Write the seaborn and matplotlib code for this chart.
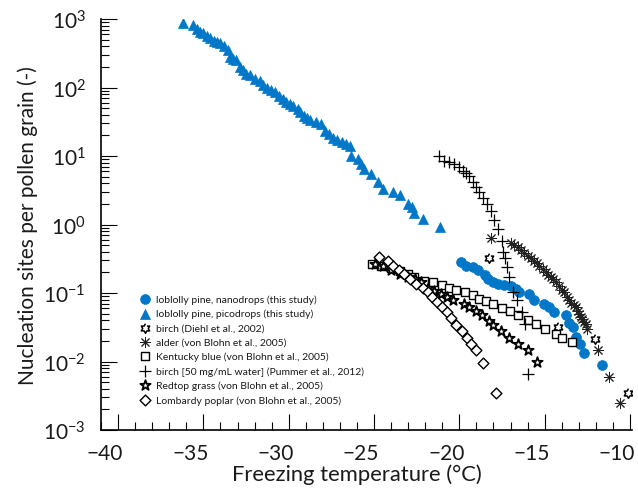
import matplotlib
matplotlib.use("Agg")
import numpy as np
import pandas as pd
import matplotlib.pyplot as plt
import matplotlib.transforms as mtransforms
from matplotlib.ticker import MultipleLocator, LogLocator, NullFormatter
import seaborn as sns

# ---- data: freezing temperature (deg C) and nucleation sites per pollen grain ----
nano_temp = [-19.9, -19.61, -19.22, -18.93, -18.48, -18.3, -18.05, -17.76, -17.37, -16.98,
             -16.68, -16.49, -15.9, -15.6, -15.03, -14.74, -14.44, -13.76, -13.6, -13.35,
             -13.16, -12.9, -12.7, -11.62]
nano_sites = [0.288, 0.251, 0.237, 0.219, 0.182, 0.158, 0.146, 0.135, 0.132, 0.126,
              0.115, 0.105, 0.098, 0.079, 0.069, 0.062, 0.052, 0.048, 0.037, 0.032,
              0.023, 0.018, 0.0135, 0.0089]

pico_temp = [-36.2, -35.6, -35.4, -35.2, -35.0, -34.8, -34.6, -34.4, -34.2, -34.0,
             -33.8, -33.55, -33.45, -33.25, -33.06, -32.85, -32.67, -32.5, -32.28, -32.0,
             -31.7, -31.5, -31.3, -31.05, -30.8, -30.55, -30.33, -30.15, -29.94, -29.75,
             -29.46, -29.36, -29.1, -28.9, -28.77, -28.4, -28.1, -27.9, -27.65, -27.4,
             -27.15, -26.9, -26.65, -26.43, -26.33, -25.94, -25.75, -25.56, -25.16, -24.78,
             -24.5, -23.86, -23.47, -23.02, -22.8, -22.63, -22.15, -21.13]
pico_sites = [870, 810, 720, 650, 620, 560, 520, 480, 460, 440,
              400, 350, 280, 260, 250, 200, 180, 160, 150, 135,
              126, 110, 100, 91, 85, 76, 68, 62, 58, 54,
              49, 44, 38, 35.5, 33, 31, 29.5, 23.4, 20.9, 18.6,
              17.0, 15.8, 14.8, 14.1, 10.0, 9.1, 7.6, 6.5, 5.5, 4.2,
              3.3, 3.0, 2.7, 2.0, 1.8, 1.48, 1.2, 0.91]

diehl_temp = [-18.25, -14.19, -12.05, -10.1]
diehl_sites = [0.32, 0.032, 0.021, 0.0035]

alder_temp = [-18.15, -16.98, -16.8, -16.59, -16.4, -16.2, -16.0, -15.8, -15.61, -15.45,
              -15.32, -15.1, -14.93, -14.8, -14.64, -14.5, -14.34, -14.15, -14.0, -13.86,
              -13.67, -13.55, -13.47, -13.3, -13.18, -13.05, -12.98, -12.88, -12.79, -12.7,
              -12.6, -12.5, -11.9, -11.23, -10.6]
alder_sites = [0.63, 0.54, 0.50, 0.47, 0.43, 0.39, 0.35, 0.32, 0.295, 0.27,
               0.25, 0.224, 0.20, 0.186, 0.17, 0.158, 0.145, 0.126, 0.112, 0.102,
               0.087, 0.079, 0.072, 0.066, 0.062, 0.054, 0.049, 0.045, 0.042, 0.038,
               0.035, 0.0295, 0.0145, 0.006, 0.0025]

kblue_temp = [-25.1, -24.58, -24.0, -23.5, -23.02, -22.63, -22.05, -21.52, -21.02, -20.63,
              -20.2, -19.65, -19.22, -18.85, -18.46, -18.05, -17.5, -17.04, -16.59, -16.0,
              -15.52, -14.97, -14.31, -14.0, -13.37]
kblue_sites = [0.265, 0.25, 0.23, 0.21, 0.19, 0.17, 0.151, 0.145, 0.132, 0.12,
               0.112, 0.102, 0.093, 0.083, 0.076, 0.068, 0.060, 0.054, 0.048, 0.041,
               0.035, 0.0295, 0.025, 0.022, 0.019]

pummer_temp = [-21.2, -20.88, -20.6, -20.3, -20.0, -19.8, -19.6, -19.45, -19.22, -19.02,
               -18.83, -18.63, -18.4, -18.15, -17.95, -17.72, -17.52, -17.43, -17.3, -17.2,
               -17.1, -16.85, -16.6, -16.3, -16.15, -16.0]
pummer_sites = [10.0, 8.5, 8.1, 7.6, 6.8, 6.1, 5.6, 5.1, 4.2, 3.55,
                2.95, 2.4, 2.0, 1.58, 1.15, 0.87, 0.575, 0.40, 0.32, 0.24,
                0.17, 0.105, 0.079, 0.052, 0.035, 0.0066]

redtop_temp = [-24.97, -24.5, -24.0, -23.5, -23.0, -22.6, -22.24, -21.85, -21.46, -21.07,
               -20.74, -20.39, -19.71, -19.42, -19.02, -18.7, -18.25, -18.0, -17.56, -17.1,
               -16.58, -16.0, -15.42]
redtop_sites = [0.263, 0.245, 0.219, 0.19, 0.17, 0.158, 0.145, 0.12, 0.107, 0.098,
                0.087, 0.079, 0.069, 0.062, 0.054, 0.048, 0.039, 0.034, 0.028, 0.022,
                0.018, 0.0145, 0.0098]

poplar_temp = [-24.72, -24.19, -23.9, -23.55, -23.22, -22.88, -22.53, -22.15, -21.85, -21.6,
               -21.33, -21.02, -20.74, -20.49, -20.2, -19.85, -19.57, -19.3, -19.02, -18.6,
               -17.85]
poplar_sites = [0.33, 0.29, 0.25, 0.22, 0.19, 0.162, 0.135, 0.117, 0.102, 0.087,
                0.074, 0.062, 0.052, 0.043, 0.034, 0.0275, 0.0224, 0.018, 0.0145, 0.0095,
                0.0035]

series_labels = [
    "loblolly pine, nanodrops (this study)",
    "loblolly pine, picodrops (this study)",
    "birch (Diehl et al., 2002)",
    "alder (von Blohn et al., 2005)",
    "Kentucky blue (von Blohn et al., 2005)",
    "birch [50 mg/mL water] (Pummer et al., 2012)",
    "Redtop grass (von Blohn et al., 2005)",
    "Lombardy poplar (von Blohn et al., 2005)",
]
x_ticks = [-40, -35, -30, -25, -20, -15, -10]
y_ticks = [1e-3, 1e-2, 1e-1, 1e0, 1e1, 1e2, 1e3]
y_tick_labels = [r"$10^{-3}$", r"$10^{-2}$", r"$10^{-1}$", r"$10^{0}$",
                 r"$10^{1}$", r"$10^{2}$", r"$10^{3}$"]

# ---- style ----
sns.set_style("ticks")
plt.rcParams["font.family"] = ["Lato", "DejaVu Sans"]
plt.rcParams["mathtext.fontset"] = "custom"
plt.rcParams["mathtext.rm"] = "Lato"
plt.rcParams["mathtext.it"] = "Lato:italic"
plt.rcParams["mathtext.bf"] = "Lato:bold"

BLUE = "#0077C8"
TEXT = "#1a1a1a"

# six-pointed star outline
ang = np.deg2rad(90 + 30 * np.arange(12))
rad = np.where(np.arange(12) % 2 == 0, 1.0, 1 / np.sqrt(3))
hexagram = list(zip(rad * np.cos(ang), rad * np.sin(ang)))

fig = plt.figure(figsize=(6.38, 4.89), dpi=100)
ax = fig.add_axes([0.1583, 0.1186, 0.8323, 0.8405])

def draw(temp, sites, label, **kw):
    df = pd.DataFrame({"T": temp, "n": sites})
    sns.scatterplot(data=df, x="T", y="n", ax=ax, label=label, legend=False, **kw)

draw(nano_temp, nano_sites, series_labels[0], marker="o", s=50,
     color=BLUE, edgecolor=BLUE, linewidth=0.5)
draw(pico_temp, pico_sites, series_labels[1], marker="^", s=52,
     color=BLUE, edgecolor=BLUE, linewidth=0.5)
draw(diehl_temp, diehl_sites, series_labels[2], marker=hexagram, s=48,
     facecolor="white", edgecolor="black", linewidth=1.1)
draw(alder_temp, alder_sites, series_labels[3], marker=(8, 2, 0), s=55,
     color="#222222", linewidth=0.7)
draw(kblue_temp, kblue_sites, series_labels[4], marker="s", s=36,
     facecolor="white", edgecolor="black", linewidth=1.0)
draw(pummer_temp, pummer_sites, series_labels[5], marker="+", s=80,
     color="black", linewidth=0.9)
draw(redtop_temp, redtop_sites, series_labels[6], marker="*", s=60,
     facecolor="white", edgecolor="black", linewidth=1.3)
draw(poplar_temp, poplar_sites, series_labels[7], marker="D", s=30,
     facecolor="white", edgecolor="black", linewidth=1.0)

# ---- axes ----
ax.set_yscale("log")
ax.set_xlim(-41, -9.88)
ax.set_ylim(1e-3, 1e3)
ax.set_xticks(x_ticks)
ax.set_xticklabels([f"\u2212{abs(v)}" for v in x_ticks])
ax.xaxis.set_minor_locator(MultipleLocator(1))
ax.set_yticks(y_ticks)
ax.set_yticklabels(y_tick_labels)
ax.yaxis.set_minor_locator(LogLocator(base=10, subs=np.arange(2, 10), numticks=20))
ax.yaxis.set_minor_formatter(NullFormatter())

ax.tick_params(which="major", direction="in", length=11.5, width=0.8,
               labelsize=15, color="black", labelcolor=TEXT)
ax.tick_params(which="minor", direction="in", length=5.5, width=0.8, color="black")
ax.tick_params(axis="y", which="major", pad=11)
ax.tick_params(axis="x", which="major", pad=9.5)

for side in ("top", "right"):
    ax.spines[side].set_visible(False)
for side in ("left", "bottom"):
    ax.spines[side].set_linewidth(1.2)
    ax.spines[side].set_color("black")

ax.set_xlabel("Freezing temperature (\u00b0C)", fontsize=15.8, color=TEXT, labelpad=0)
ax.xaxis.label.set_x(0.482)
ax.set_ylabel("Nucleation sites per pollen grain (-)", fontsize=15, color=TEXT, labelpad=4)

leg = ax.legend(loc="upper left", bbox_to_anchor=(0.073, 0.33), frameon=False,
                fontsize=7.5, handlelength=1.0, handletextpad=0.6,
                labelspacing=0.47, borderpad=0, borderaxespad=0, scatterpoints=1)
for t in leg.get_texts():
    t.set_color(TEXT)

# x tick labels sit slightly left of their ticks
fig.canvas.draw()
shift = mtransforms.ScaledTranslation(-13 / 100, 0, fig.dpi_scale_trans)
for lab in ax.get_xticklabels():
    lab.set_transform(lab.get_transform() + shift)

fig.savefig("out.png", dpi=100)
